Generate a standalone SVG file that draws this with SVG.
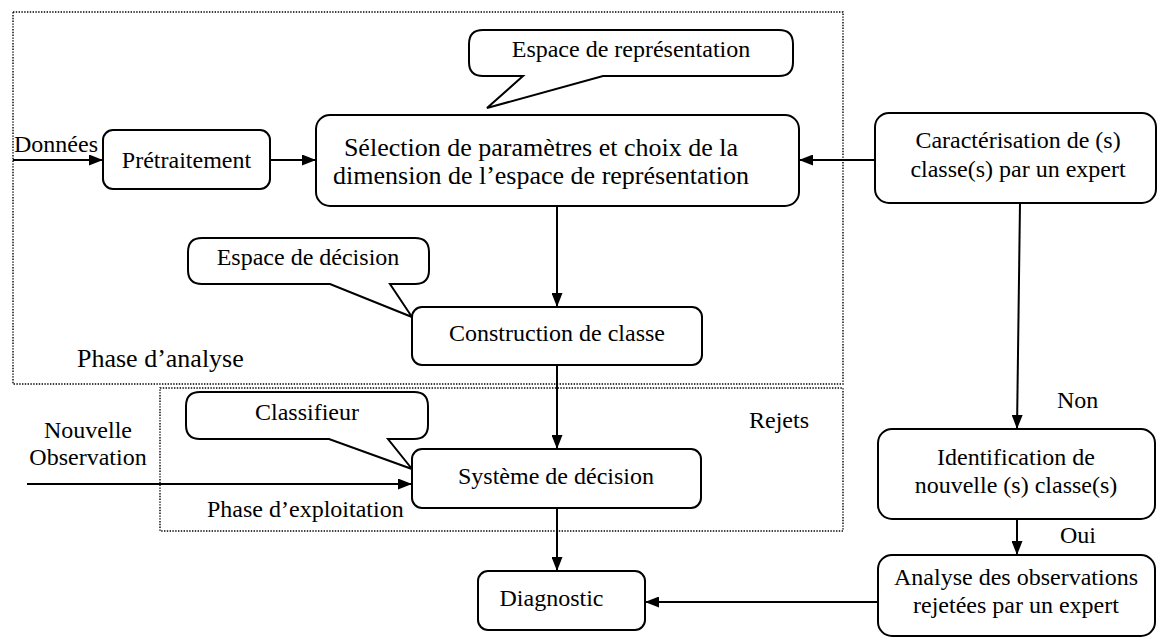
<svg xmlns="http://www.w3.org/2000/svg" width="1157" height="638" viewBox="0 0 1157 638">
  <style>
    text { font-family: "Liberation Serif", "Times New Roman", serif; font-size: 24px; fill: #000; }
    .c { text-anchor: middle; }
    .box { fill: #fff; stroke: #000; stroke-width: 2; }
    .bubble { fill: #fff; stroke: #000; stroke-width: 2; stroke-linejoin: miter; }
    .zone { fill: none; stroke: #000; stroke-width: 1.4; stroke-dasharray: 1.4 1.4; }
    .link { fill: none; stroke: #000; stroke-width: 2; marker-end: url(#arrow); }
  </style>
  <defs>
    <marker id="arrow" markerUnits="userSpaceOnUse" markerWidth="15" markerHeight="11" refX="14" refY="5.5" orient="auto">
      <path d="M0,0 L14,5.5 L0,11 Z" fill="#000"/>
    </marker>
  </defs>

  <!-- phase frames -->
  <g id="zones">
    <rect class="zone" x="13" y="12" width="830" height="372"/>
    <rect class="zone" x="160" y="388" width="683" height="143"/>
    <text x="77" y="367" style="font-size:26px">Phase d’analyse</text>
    <text x="207" y="517">Phase d’exploitation</text>
  </g>

  <!-- connectors -->
  <g id="connectors">
    <line class="link" x1="13" y1="160" x2="103" y2="160"/>
    <line class="link" x1="270" y1="160" x2="316" y2="160"/>
    <line class="link" x1="875" y1="160" x2="799" y2="160"/>
    <line class="link" x1="557" y1="206" x2="557" y2="307"/>
    <line class="link" x1="557" y1="365" x2="557" y2="449"/>
    <line class="link" x1="27" y1="484" x2="412" y2="484"/>
    <line class="link" x1="557" y1="508" x2="557" y2="571"/>
    <line class="link" x1="1020" y1="203" x2="1017" y2="429"/>
    <line class="link" x1="1017" y1="519" x2="1017" y2="555"/>
    <line class="link" x1="878" y1="602" x2="645" y2="602"/>
    <text x="14" y="152">Données</text>
    <text x="88" y="438" class="c">Nouvelle</text>
    <text x="88" y="465" class="c">Observation</text>
    <text x="749" y="428">Rejets</text>
    <text x="1057" y="408">Non</text>
    <text x="1060" y="543">Oui</text>
  </g>

  <!-- callouts -->
  <g id="bubble-representation">
    <path class="bubble" d="M483,30 H779 Q793,30 793,44 V62 Q793,76 779,76 H603 L487,108 L523,76 H483 Q469,76 469,62 V44 Q469,30 483,30 Z"/>
    <text x="631" y="57" class="c">Espace de représentation</text>
  </g>
  <g id="bubble-decision">
    <path class="bubble" d="M202,238 H415 Q429,238 429,252 V270 Q429,284 415,284 H390 L412,317 L330,284 H202 Q188,284 188,270 V252 Q188,238 202,238 Z"/>
    <text x="308" y="265" class="c">Espace de décision</text>
  </g>
  <g id="bubble-classifieur">
    <path class="bubble" d="M200,392 H414 Q428,392 428,406 V425 Q428,439 414,439 H388 L412,469 L329,439 H200 Q186,439 186,425 V406 Q186,392 200,392 Z"/>
    <text x="307" y="420" class="c">Classifieur</text>
  </g>

  <!-- process nodes -->
  <g id="pretraitement">
    <rect class="box" x="103" y="130" width="167" height="59" rx="10"/>
    <text x="186.5" y="168" class="c">Prétraitement</text>
  </g>
  <g id="selection">
    <rect class="box" x="316" y="115" width="483" height="91" rx="14"/>
    <text x="541" y="156" class="c" style="font-size:26px">Sélection de paramètres et choix de la</text>
    <text x="541" y="184" class="c" style="font-size:26px">dimension de l’espace de représentation</text>
  </g>
  <g id="caracterisation">
    <rect class="box" x="875" y="113" width="281" height="90" rx="14"/>
    <text x="1018" y="148" class="c">Caractérisation de (s)</text>
    <text x="1018" y="177" class="c">classe(s) par un expert</text>
  </g>
  <g id="construction">
    <rect class="box" x="412" y="307" width="290" height="58" rx="10"/>
    <text x="557" y="341" class="c">Construction de classe</text>
  </g>
  <g id="systeme">
    <rect class="box" x="412" y="449" width="289" height="59" rx="10"/>
    <text x="556" y="484" class="c">Système de décision</text>
  </g>
  <g id="diagnostic">
    <rect class="box" x="478" y="571" width="167" height="59" rx="10"/>
    <text x="551.5" y="606" class="c">Diagnostic</text>
  </g>
  <g id="identification">
    <rect class="box" x="878" y="429" width="277" height="90" rx="14"/>
    <text x="1016" y="465" class="c">Identification de</text>
    <text x="1016" y="493" class="c">nouvelle (s) classe(s)</text>
  </g>
  <g id="analyse">
    <rect class="box" x="878" y="555" width="277" height="81" rx="14"/>
    <text x="1016" y="585" class="c">Analyse des observations</text>
    <text x="1016" y="613" class="c">rejetées par un expert</text>
  </g>
</svg>
